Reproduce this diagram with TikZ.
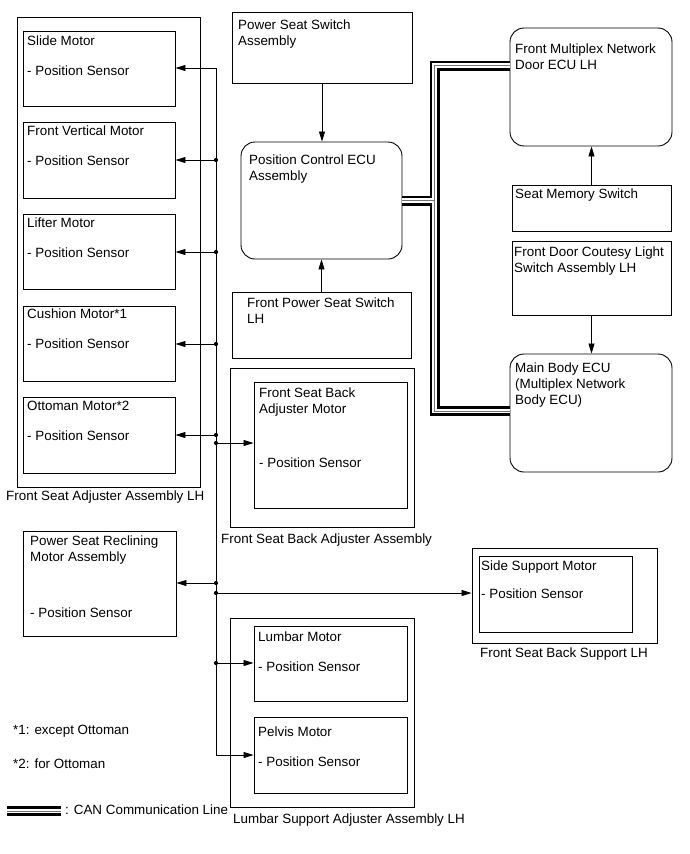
\documentclass[tikz,border=0pt]{standalone}
\usepackage{fontspec}
\setmainfont{Liberation Sans}
\usetikzlibrary{arrows.meta,fit}
\begin{document}
\begin{tikzpicture}[x=1pt,y=-1pt,
  box/.style={draw, line width=0.9pt, inner sep=0pt},
  rbox/.style={box, rounded corners=14pt},
  txt/.style={anchor=north west, inner sep=0pt, align=left, font=\fontsize{13.4}{16}\selectfont},
  wire/.style={line width=0.8pt},
  arr/.style={wire, -{Triangle[length=10pt,width=6pt]}},
  dot/.style={circle, fill, inner sep=0pt, minimum size=4.2pt},
  canout/.style={line width=10pt, black},
  canmid/.style={line width=4.4pt, white},
  canin/.style={line width=1pt, black!55}
]
\useasboundingbox (0,0) rectangle (690,854);

% Front seat adjuster assembly
\node[box, fit={(17,17)(200,487)}] (fsa) {};
\node[box, fit={(23,31)(175,106)}] (slide) {};
\node[box, fit={(23,122)(175,198)}] (fv) {};
\node[box, fit={(23,214)(175,289)}] (lifter) {};
\node[box, fit={(23,306)(175,381)}] (cushion) {};
\node[box, fit={(23,397)(175,473)}] (ottoman) {};
\node[txt] (tslide) at (27,33.6) {\strut Slide Motor\\[14pt]- Position Sensor};
\node[txt] (tfv) at (27,123.6) {\strut Front Vertical Motor\\[14pt]- Position Sensor};
\node[txt] (tlifter) at (27,215.6) {\strut Lifter Motor\\[14pt]- Position Sensor};
\node[txt] (tcushion) at (27,306.6) {\strut Cushion Motor*1\\[14pt]- Position Sensor};
\node[txt] (tottoman) at (27,398.6) {\strut Ottoman Motor*2\\[14pt]- Position Sensor};
\node[txt] (tfsa) at (6,488.6) {\strut Front Seat Adjuster Assembly LH};

% centre column
\node[box, fit={(232,12)(412,83)}] (pss) {};
\node[txt] (tpss) at (238,17.6) {\strut Power Seat Switch\\Assembly};
\node[rbox, fit={(241,142)(402,259)}] (pcecu) {};
\node[txt] (tpcecu) at (249,152.6) {\strut Position Control ECU\\Assembly};
\node[box, fit={(232,292)(411,358)}] (fpss) {};
\node[txt] (tfpss) at (247,295.6) {\strut Front Power Seat Switch\\LH};

\node[box, fit={(230,368)(414,527)}] (fsba) {};
\node[box, fit={(254,382)(407,508)}] (fsbam) {};
\node[txt] (tfsbam) at (259,385.6) {\strut Front Seat Back\\Adjuster Motor\\[38pt]- Position Sensor};
\node[txt] (tfsba) at (221,531.6) {\strut Front Seat Back Adjuster Assembly};

\node[box, fit={(23,531)(176,636)}] (recl) {};
\node[txt] (trecl) at (30,534.3) {\strut Power Seat Reclining\\Motor Assembly\\[40pt]- Position Sensor};

\node[box, fit={(230,618)(414,807)}] (lsa) {};
\node[box, fit={(254,626)(407,701)}] (lumbar) {};
\node[box, fit={(254,717)(407,793)}] (pelvis) {};
\node[txt] (tlumbar) at (258,629.6) {\strut Lumbar Motor\\[14pt]- Position Sensor};
\node[txt] (tpelvis) at (258,724.6) {\strut Pelvis Motor\\[14pt]- Position Sensor};
\node[txt] (tlsa) at (233,811.6) {\strut Lumbar Support Adjuster Assembly LH};

% right column
\node[rbox, fit={(510,28)(672,146)}] (fmn) {};
\node[txt] (tfmn) at (515,41.6) {\strut Front Multiplex Network\\Door ECU LH};
\node[box, fit={(512,185)(671,231)}] (sms) {};
\node[txt] (tsms) at (515,186.6) {\strut Seat Memory Switch};
\node[box, fit={(512,241)(671,315)}] (fdcl) {};
\node[txt] (tfdcl) at (514,244.6) {\strut Front Door Coutesy Light\\Switch Assembly LH};
\node[rbox, fit={(510,354)(672,472)}] (mbecu) {};
\node[txt] (tmbecu) at (515,360.6) {\strut Main Body ECU\\(Multiplex Network\\Body ECU)};

\node[box, fit={(472,548)(657,643)}] (sideo) {};
\node[box, fit={(479,556)(632,632)}] (sidei) {};
\node[txt] (tside) at (481,558.6) {\strut Side Support Motor\\[12pt]- Position Sensor};
\node[txt] (tsideo) at (480,645.6) {\strut Front Seat Back Support LH};

% footnotes
\node[txt] (fn1) at (13,722.6) {\strut *1: except Ottoman};
\node[txt] (fn2) at (13,756.6) {\strut *2: for Ottoman};

% switch arrows
\draw[arr] (pss.south) -- (pss.south |- pcecu.north);
\draw[arr] (fpss.north) -- (fpss.north |- pcecu.south);
\draw[arr] (sms.north) -- (sms.north |- fmn.south);
\draw[arr] (fdcl.south) -- (fdcl.south |- mbecu.north);

% bus
\coordinate (bus1) at (216,68);
\node[dot] (bus2) at (216,160) {};
\node[dot] (bus3) at (216,252) {};
\node[dot] (bus4) at (216,344) {};
\node[dot] (bus5) at (216,435) {};
\node[dot] (bus6) at (216,443) {};
\node[dot] (bus7) at (216,583) {};
\node[dot] (bus8) at (216,593) {};
\node[dot] (bus9) at (216,663) {};
\coordinate (bus10) at (216,755);
\draw[wire] (bus1) -- (bus10);
\draw[arr] (bus1) -- (bus1 -| slide.east);
\draw[arr] (bus2.center) -- (bus2 -| fv.east);
\draw[arr] (bus3.center) -- (bus3 -| lifter.east);
\draw[arr] (bus4.center) -- (bus4 -| cushion.east);
\draw[arr] (bus5.center) -- (bus5 -| ottoman.east);
\draw[arr] (bus6.center) -- (bus6 -| fsbam.west);
\draw[arr] (bus7.center) -- (bus7 -| recl.east);
\draw[arr] (bus8.center) -- (bus8 -| sideo.west);
\draw[arr] (bus9.center) -- (bus9 -| lumbar.west);
\draw[arr] (bus10) -- (bus10 -| pelvis.west);

% CAN lines
\coordinate (cant) at (434.5,65.5);
\coordinate (canb) at (434.5,411);
\foreach \s in {canout,canmid,canin}
  \draw[\s] (pcecu.east) -| (cant) -- (cant -| fmn.west)
            (pcecu.east) -| (canb) -- (canb -| mbecu.west);

% legend
\coordinate (lg1) at (7,811);
\coordinate (lg2) at (61,811);
\foreach \s in {canout,canmid,canin}
  \draw[\s] (lg1) -- (lg2);
\node[txt] (tlg) at (65,802.6) {\strut : CAN Communication Line};
\end{tikzpicture}
\end{document}
